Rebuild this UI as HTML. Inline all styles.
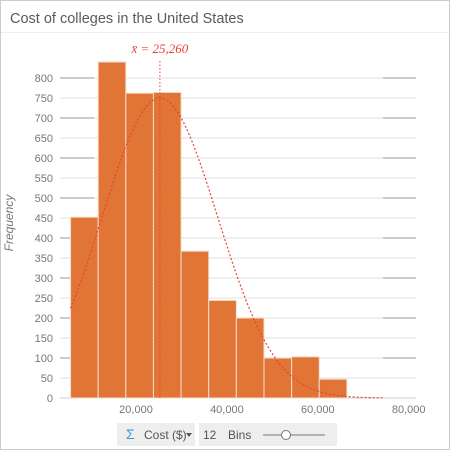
<!DOCTYPE html>
<html><head><meta charset="utf-8"><style>
body{margin:0;background:#fff;font-family:"Liberation Sans",sans-serif;}
#wrap{position:relative;width:448px;height:448px;border:1px solid #ccc;background:#fff;}
</style></head><body>
<div id="wrap">
<svg id="svg" width="448" height="448" style="position:absolute;left:0;top:0">
<text x="9" y="22" font-size="14.5" fill="#5a5a5a">Cost of colleges in the United States</text>
<line x1="0" y1="31.5" x2="448" y2="31.5" stroke="#eee"/>
<g id="grid"></g><g id="bars"></g><g id="curve"></g><g id="axes"></g>
<text x="12" y="222" font-size="12" fill="#777" font-style="italic" text-anchor="middle" transform="rotate(-90 12 222)">Frequency</text>
<rect x="116" y="422" width="78" height="23" fill="#eee"/>
<text x="125" y="438" font-size="14" fill="#3a9ad9">Σ</text>
<text x="143" y="438" font-size="12" fill="#555">Cost ($)</text>
<path d="M185 432 l6 0 l-3 4z" fill="#555"/>
<rect x="198" y="422" width="138" height="23" fill="#eee"/>
<text x="202" y="438" font-size="12" fill="#555">12</text>
<text x="227" y="438" font-size="12" fill="#555">Bins</text>
<line x1="262" y1="434" x2="324" y2="434" stroke="#777"/>
<circle cx="285" cy="434" r="4.5" fill="#fff" stroke="#777"/>
</svg>
</div>
<script>
const binStart=5600, binWidth=6080;
const counts=[452,840,762,764,367,244,200,100,103,47,0,0];
const yTicks=[0,50,100,150,200,250,300,350,400,450,500,550,600,650,700,750,800];
const xTicks=[20000,40000,60000,80000];
const xTickLabels=["20,000","40,000","60,000","80,000"];
const meanVal=25260, meanLabel="x̄ = 25,260", sdVal=12650, curvePeak=750;
const NS="http://www.w3.org/2000/svg";
const X=v=>135+(v-20000)*0.004545;
const Y=v=>397-v*0.4;
function mk(p,tag,a){const e=document.createElementNS(NS,tag);for(const k in a)e.setAttribute(k,a[k]);document.getElementById(p).appendChild(e);return e;}
yTicks.forEach(t=>{
 let l=mk('grid','line',{x1:59,x2:415,y1:Y(t),y2:Y(t),stroke:t===0?'#ccc':'#e2e2e2'});
 
 
 if(t%100===0&&t>0){
  let a=mk('grid','line',{x1:59,x2:93,y1:Y(t),y2:Y(t),stroke:'#999'});
  
  
  let b=mk('grid','line',{x1:382,x2:415,y1:Y(t),y2:Y(t),stroke:'#999'});
  
  
 }
 let tx=mk('axes','text',{x:52,y:Y(t)+4,'font-size':11,fill:'#777','text-anchor':'end'});
 tx.textContent=t;
 
 
});
xTicks.forEach((t,i)=>{
 let tx=mk('axes','text',{x:X(t),y:412,'font-size':11,fill:'#777','text-anchor':'middle'});
 tx.textContent=xTickLabels[i];
 
 
});
counts.forEach((c,i)=>{
 if(c<=0)return;
 const x0=X(binStart+i*binWidth),x1=X(binStart+(i+1)*binWidth);
 let r=mk('bars','rect',{x:x0,y:Y(c),width:x1-x0,height:Y(0)-Y(c),fill:'#e07535',stroke:'#f6dccb','stroke-width':1});
 
 
});
let pts=[];
for(let v=binStart;v<=75000;v+=500){const z=(v-meanVal)/sdVal;pts.push(X(v).toFixed(1)+','+Y(curvePeak*Math.exp(-z*z/2)).toFixed(1));}
let pl=mk('curve','polyline',{points:pts.join(' '),fill:'none',stroke:'#e8403a','stroke-width':1.2,'stroke-dasharray':'2,2'});


let ml=mk('curve','line',{x1:X(meanVal),x2:X(meanVal),y1:60,y2:397,stroke:'#e8403a','stroke-width':1,'stroke-dasharray':'1.5,2'});


let mt=mk('curve','text',{x:X(meanVal),y:52,'font-size':13,fill:'#e8403a','text-anchor':'middle','font-style':'italic','font-family':'Liberation Serif,serif'});
mt.textContent=meanLabel;


</script>
</body></html>
